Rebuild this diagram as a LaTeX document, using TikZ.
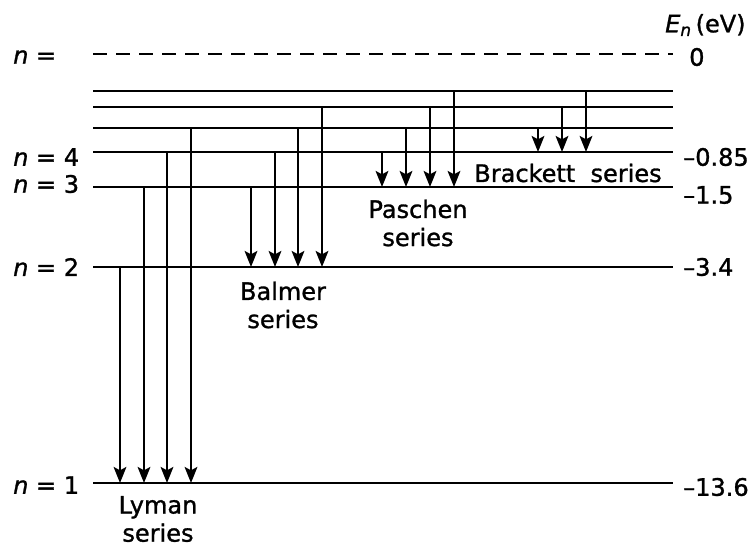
\documentclass[tikz,border=0pt]{standalone}
\usepackage{fontspec}
\setmainfont[FakeBold=1.2]{DejaVu Sans}
\usetikzlibrary{arrows.meta}

\begin{document}
\begin{tikzpicture}[x=0.03cm, y=-0.03cm,
  lbl/.style={inner sep=0pt, font=\fontsize{20.5}{24}\selectfont},
  ser/.style={lbl, align=center},
  lvl/.style={line width=2pt},
  arr/.style={-{Stealth[length=0.48cm, width=0.38cm, inset=0.1cm]}, line width=2pt}
]
  \useasboundingbox (0,0) rectangle (753,550);

  \coordinate (lvinf) at (93,54);   \coordinate (rvinf) at (673,54);
  \coordinate (lv7) at (93,91);     \coordinate (rv7) at (673,91);
  \coordinate (lv6) at (93,107);    \coordinate (rv6) at (673,107);
  \coordinate (lv5) at (93,128);    \coordinate (rv5) at (673,128);
  \coordinate (lv4) at (93,152);    \coordinate (rv4) at (673,152);
  \coordinate (lv3) at (93,187);    \coordinate (rv3) at (673,187);
  \coordinate (lv2) at (93,267);    \coordinate (rv2) at (673,267);
  \coordinate (lv1) at (93,483);    \coordinate (rv1) at (673,483);

  \draw[lvl, dash pattern=on 0.42cm off 0.27cm] (lvinf) -- (rvinf);
  \draw[lvl] (lv7) -- (rv7);
  \draw[lvl] (lv6) -- (rv6);
  \draw[lvl] (lv5) -- (rv5);
  \draw[lvl] (lv4) -- (rv4);
  \draw[lvl] (lv3) -- (rv3);
  \draw[lvl] (lv2) -- (rv2);
  \draw[lvl] (lv1) -- (rv1);

  \node[lbl, anchor=west] (ninf) at (13,57) {\textit{n} =};
  \node[lbl, anchor=west] (n4) at (13,157) {\textit{n} = 4};
  \node[lbl, anchor=west] (n3) at (13,184) {\textit{n} = 3};
  \node[lbl, anchor=west] (n2) at (13,267) {\textit{n} = 2};
  \node[lbl, anchor=west] (n1) at (13,485) {\textit{n} = 1};

  \node[lbl, anchor=west] (eunit) at (665,25) {\textit{E}\textsubscript{\textit{n}}\,(eV)};
  \node[lbl, anchor=west] (einf) at (689,57) {0};
  \node[lbl, anchor=west] (e4) at (683,157) {\textendash0.85};
  \node[lbl, anchor=west] (e3) at (683,195) {\textendash1.5};
  \node[lbl, anchor=west] (e2) at (683,267) {\textendash3.4};
  \node[lbl, anchor=west] (e1) at (683,487) {\textendash13.6};

  \draw[arr] (120,0 |- lv2) -- (120,0 |- lv1);
  \draw[arr] (144,0 |- lv3) -- (144,0 |- lv1);
  \draw[arr] (167,0 |- lv4) -- (167,0 |- lv1);
  \draw[arr] (191,0 |- lv5) -- (191,0 |- lv1);

  \draw[arr] (251,0 |- lv3) -- (251,0 |- lv2);
  \draw[arr] (275,0 |- lv4) -- (275,0 |- lv2);
  \draw[arr] (298,0 |- lv5) -- (298,0 |- lv2);
  \draw[arr] (322,0 |- lv6) -- (322,0 |- lv2);

  \draw[arr] (382,0 |- lv4) -- (382,0 |- lv3);
  \draw[arr] (406,0 |- lv5) -- (406,0 |- lv3);
  \draw[arr] (430,0 |- lv6) -- (430,0 |- lv3);
  \draw[arr] (454,0 |- lv7) -- (454,0 |- lv3);

  \draw[arr] (538,0 |- lv5) -- (538,0 |- lv4);
  \draw[arr] (562,0 |- lv6) -- (562,0 |- lv4);
  \draw[arr] (586,0 |- lv7) -- (586,0 |- lv4);

  \node[ser] (lyman) at (158,519) {Lyman\\series};
  \node[ser] (balmer) at (283,305) {Balmer\\series};
  \node[ser] (paschen) at (418,223) {Paschen\\series};
  \node[lbl] (brackett) at (568,173) {Brackett\ \ series};
\end{tikzpicture}
\end{document}
